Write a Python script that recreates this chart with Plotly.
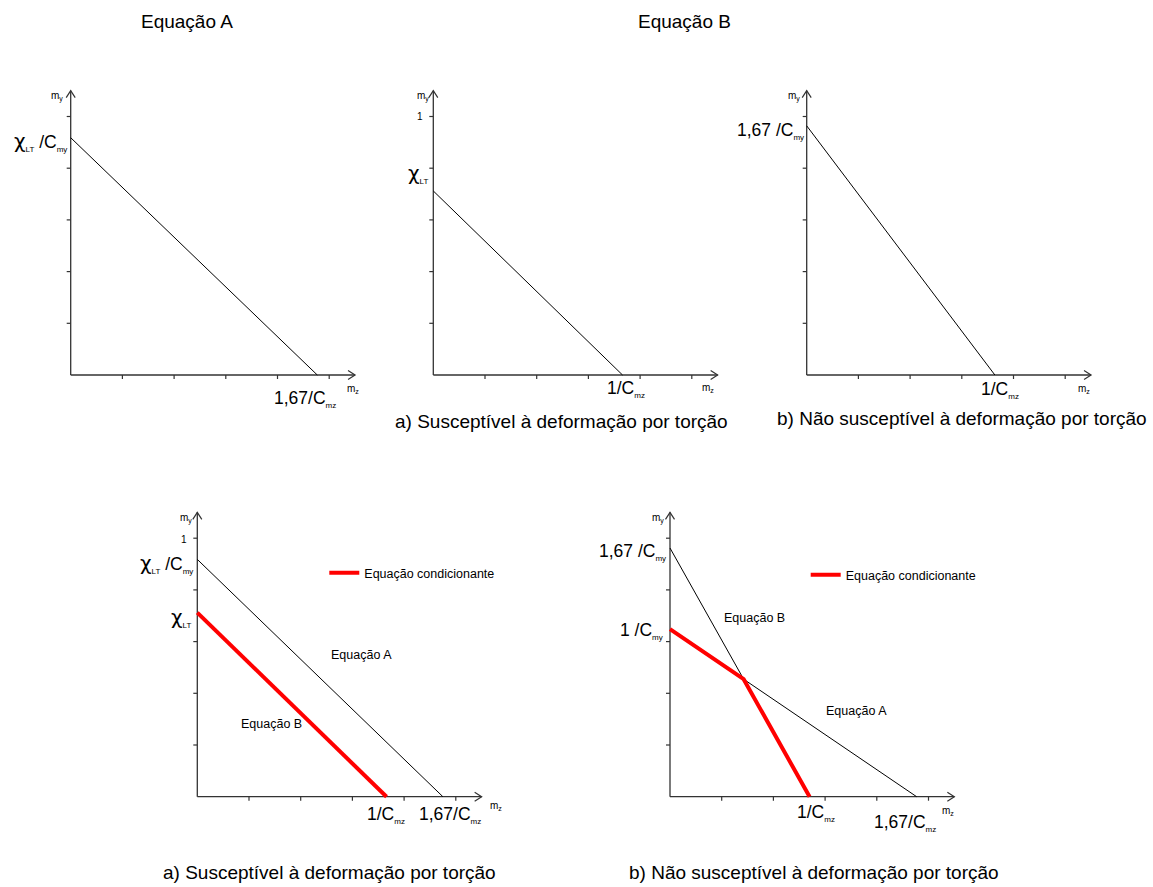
import plotly.graph_objects as go

W, H = 1153, 887
U = 51.7  # pixels per axis unit (same on both axes)

# ---------------- data (axis units) ----------------
tick_values = [1, 2, 3, 4, 5]
axis_length = 5.5

# Top row
p1_eqA_x = [0, 4.77]; p1_eqA_y = [4.59, 0]          # Equação A
p2_eqB_x = [0, 3.66]; p2_eqB_y = [3.56, 0]          # Equação B (a)
p3_eqB_x = [0, 3.64]; p3_eqB_y = [4.82, 0]          # Equação B (b)
# Bottom row
p4_eqA_x = [0, 4.75]; p4_eqA_y = [4.59, 0]
p4_eqB_x = [0, 3.66]; p4_eqB_y = [3.56, 0]
p5_eqA_x = [0, 4.77]; p5_eqA_y = [3.24, 0]
p5_eqB_x = [0, 2.70]; p5_eqB_y = [4.81, 0]

legend_name = "Equação condicionante"

# ---------------- layout helpers ----------------
# pixel position of each panel's origin
origins = [(70.7, 375.0), (433.3, 375.0), (806.7, 375.0), (197.3, 796.7), (670.0, 796.7)]
FONT = "Liberation Sans, Arial, sans-serif"
AX_COLOR = "#333333"

fig = go.Figure()


def axname(i, a):
    return a if i == 1 else f"{a}{i}"


def add_line(i, xs, ys, color="black", width=1.0, name=None, legend=None):
    fig.add_trace(go.Scatter(
        x=xs, y=ys, mode="lines", xaxis=axname(i, "x"), yaxis=axname(i, "y"),
        line=dict(color=color, width=width), hoverinfo="skip",
        showlegend=name is not None, name=name or "", legend=legend or "legend",
    ))


def draw_axes(i):
    L = axis_length
    tl = 4 / U
    hw, hl = 4.5 / U, 7 / U
    # axis lines
    add_line(i, [0, 0, None, 0, L], [L, 0, None, 0, 0], AX_COLOR, 1.3)
    # ticks
    xs, ys = [], []
    for t in tick_values:
        xs += [0, -tl, None]; ys += [t, t, None]
        xs += [t, t, None]; ys += [0, -tl, None]
    add_line(i, xs, ys, AX_COLOR, 1.2)
    # arrow heads (open chevrons)
    add_line(i, [-hw, 0, hw, None, L - hl, L, L - hl],
             [L - hl, L, L - hl, None, hw, 0, -hw], AX_COLOR, 1.2)


for k, (ox, oy) in enumerate(origins, start=1):
    fig.update_layout({
        axname(k, "xaxis"): dict(domain=[0, 1], range=[-ox / U, (W - ox) / U],
                                 anchor=axname(k, "y"), visible=False, fixedrange=True),
        axname(k, "yaxis"): dict(domain=[0, 1], range=[(oy - H) / U, oy / U],
                                 anchor=axname(k, "x"), visible=False, fixedrange=True),
    })
    draw_axes(k)

RED = "#ff0000"

add_line(1, p1_eqA_x, p1_eqA_y)
add_line(2, p2_eqB_x, p2_eqB_y)
add_line(3, p3_eqB_x, p3_eqB_y)
add_line(4, p4_eqA_x, p4_eqA_y)
add_line(4, p4_eqB_x, p4_eqB_y, RED, 4, name=legend_name, legend="legend")

# panel 5: governing curve = lower envelope of both lines
add_line(5, p5_eqA_x, p5_eqA_y)
add_line(5, p5_eqB_x, p5_eqB_y)
sa = -p5_eqA_y[0] / p5_eqA_x[1]
sb = -p5_eqB_y[0] / p5_eqB_x[1]
xi = (p5_eqB_y[0] - p5_eqA_y[0]) / (sa - sb)
yi = p5_eqA_y[0] + sa * xi
add_line(5, [0, xi, p5_eqB_x[1]], [p5_eqA_y[0], yi, 0], RED, 4, name=legend_name, legend="legend2")

# ---------------- text ----------------
def sub(s, size=8):
    return f"<sub><span style='font-size:{size}px'>{s}</span></sub>"


def txt(px, py, text, size=17.5, xanchor="center", yanchor="middle"):
    fig.add_annotation(x=px / W, y=1 - py / H, xref="paper", yref="paper", text=text,
                       showarrow=False, xanchor=xanchor, yanchor=yanchor,
                       font=dict(family=FONT, size=size, color="black"))


CHI = "<span style='font-family:DejaVu Sans;font-size:20px'>χ</span>" + sub("LT")
CMY = "/C" + sub("my")
CMZ = "/C" + sub("mz")
MY = "m<sub>y</sub>"
MZ = "m<sub>z</sub>"

# titles
txt(187, 22, "Equação A", 19)
txt(684, 22, "Equação B", 19)

# panel 1
txt(65, 96, MY, 10, "right")
txt(69, 141, CHI + " " + CMY, 17.5, "right")
txt(272, 399, "1,67" + CMZ, 17.5, "left")
txt(353, 389, MZ, 10)
# panel 2
txt(431, 96, MY, 10, "right")
txt(425, 117, "1", 10, "right")
txt(430, 174, CHI, 17.5, "right")
txt(605, 389, "1" + CMZ, 17.5, "left")
txt(708, 388, MZ, 10)
txt(561, 421, "a) Susceptível à deformação por torção", 19)
# panel 3
txt(802, 96, MY, 10, "right")
txt(806, 131, "1,67 " + CMY, 17.5, "right")
txt(979, 390, "1" + CMZ, 17.5, "left")
txt(1084, 389, MZ, 10)
txt(962, 419, "b) Não susceptível à deformação por torção", 19)
# panel 4
txt(194, 518, MY, 10, "right")
txt(189, 539, "1", 10, "right")
txt(195, 563, CHI + " " + CMY, 17.5, "right")
txt(193, 617, CHI, 17.5, "right")
txt(365, 815, "1" + CMZ, 17.5, "left")
txt(417, 815, "1,67" + CMZ, 17.5, "left")
txt(496, 806, MZ, 10)
txt(361, 655, "Equação A", 12.5)
txt(271, 724, "Equação B", 12.5)
txt(329, 872, "a) Susceptível à deformação por torção", 19)
# panel 5
txt(666, 518, MY, 10, "right")
txt(668, 552, "1,67 " + CMY, 17.5, "right")
txt(665, 631, "1 " + CMY, 17.5, "right")
txt(795, 813, "1" + CMZ, 17.5, "left")
txt(872, 823, "1,67" + CMZ, 17.5, "left")
txt(948, 811, MZ, 10)
txt(754, 618, "Equação B", 12.5)
txt(856, 711, "Equação A", 12.5)
txt(814, 872, "b) Não susceptível à deformação por torção", 19)

leg_common = dict(font=dict(family=FONT, size=12.5, color="black"), bgcolor="rgba(0,0,0,0)",
                  borderwidth=0, xanchor="left", yanchor="middle", itemclick=False,
                  itemdoubleclick=False)
fig.update_layout(
    width=W, height=H, margin=dict(l=0, r=0, t=0, b=0),
    paper_bgcolor="white", plot_bgcolor="rgba(0,0,0,0)",
    hovermode=False,
    legend=dict(x=(329.3 - 5) / W, y=1 - 573 / H, **leg_common),
    legend2=dict(x=(810.7 - 5) / W, y=1 - 575 / H, **leg_common),
)

fig.write_html("out.html", config={"displayModeBar": False},
               post_script="document.body.style.margin='0px';document.body.style.overflow='hidden';")
